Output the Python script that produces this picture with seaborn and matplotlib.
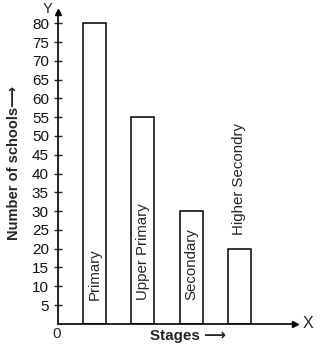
import matplotlib
matplotlib.use("Agg")
import matplotlib.pyplot as plt
import seaborn as sns
import pandas as pd

stages = ["Primary", "Upper Primary", "Secondary", "Higher Secondry"]
schools = [80, 55, 30, 20]
yticks = list(range(5, 85, 5))

sns.set_theme(style="white")
plt.rcParams['font.family'] = ['Liberation Sans', 'DejaVu Sans']

df = pd.DataFrame({"stage": stages, "schools": schools})

fig = plt.figure(figsize=(3.2, 3.53), dpi=100)
ax = fig.add_axes([0.181, 0.0827, 0.922 - 0.181, 0.966 - 0.0827])

sns.barplot(data=df, x="stage", y="schools", ax=ax, color="white",
            edgecolor="black", linewidth=1.1, width=0.48, saturation=1)

ax.set_xlim(-0.756, 4.15)
ax.set_ylim(0, 83)
ax.set_yticks(yticks)
ax.set_yticklabels([str(v) for v in yticks], fontsize=11, color="#111111")
ax.set_xticks([])
ax.tick_params(axis="y", direction="inout", length=6, width=1, pad=3.5, left=True)
for s in ["top", "right"]:
    ax.spines[s].set_visible(False)
for s in ["left", "bottom"]:
    ax.spines[s].set_color("black")
    ax.spines[s].set_linewidth(1.2)

# axis arrows
ax.plot(0, 1, marker="^", color="black", markersize=4, transform=ax.transAxes, clip_on=False)
ax.plot(1, 0, marker=">", color="black", markersize=4, transform=ax.transAxes, clip_on=False)
ax.text(-0.025, 1.01, "Y", transform=ax.transAxes, fontsize=10.5, ha="right", va="center")
ax.text(1.03, 0.0, "X", transform=ax.transAxes, fontsize=11.5, ha="left", va="center")
ax.text(-0.005, -0.033, "0", transform=ax.transAxes, fontsize=11, ha="center", va="center")

# bar labels
for i, (name, val) in enumerate(zip(stages, schools)):
    if name == "Higher Secondry":
        ax.text(i, val + 3.6, name, rotation=90, ha="center", va="bottom", fontsize=10.8)
    else:
        ax.text(i, 6.3, name, rotation=90, ha="center", va="bottom", fontsize=10.8)

ax.set_xlabel("")
ax.set_ylabel("")
fig.text(14 / 320, 1 - 163 / 353, "Number of schools\u27f6", rotation=90, fontsize=10.5,
         fontweight="bold", ha="center", va="center",
         family=['Liberation Sans', 'DejaVu Sans'])
fig.text(150 / 320, 1 - 336 / 353, "Stages \u27f6", fontsize=11, fontweight="bold",
         ha="left", va="center", family=['Liberation Sans', 'DejaVu Sans'])

fig.savefig("out.png", dpi=100)
